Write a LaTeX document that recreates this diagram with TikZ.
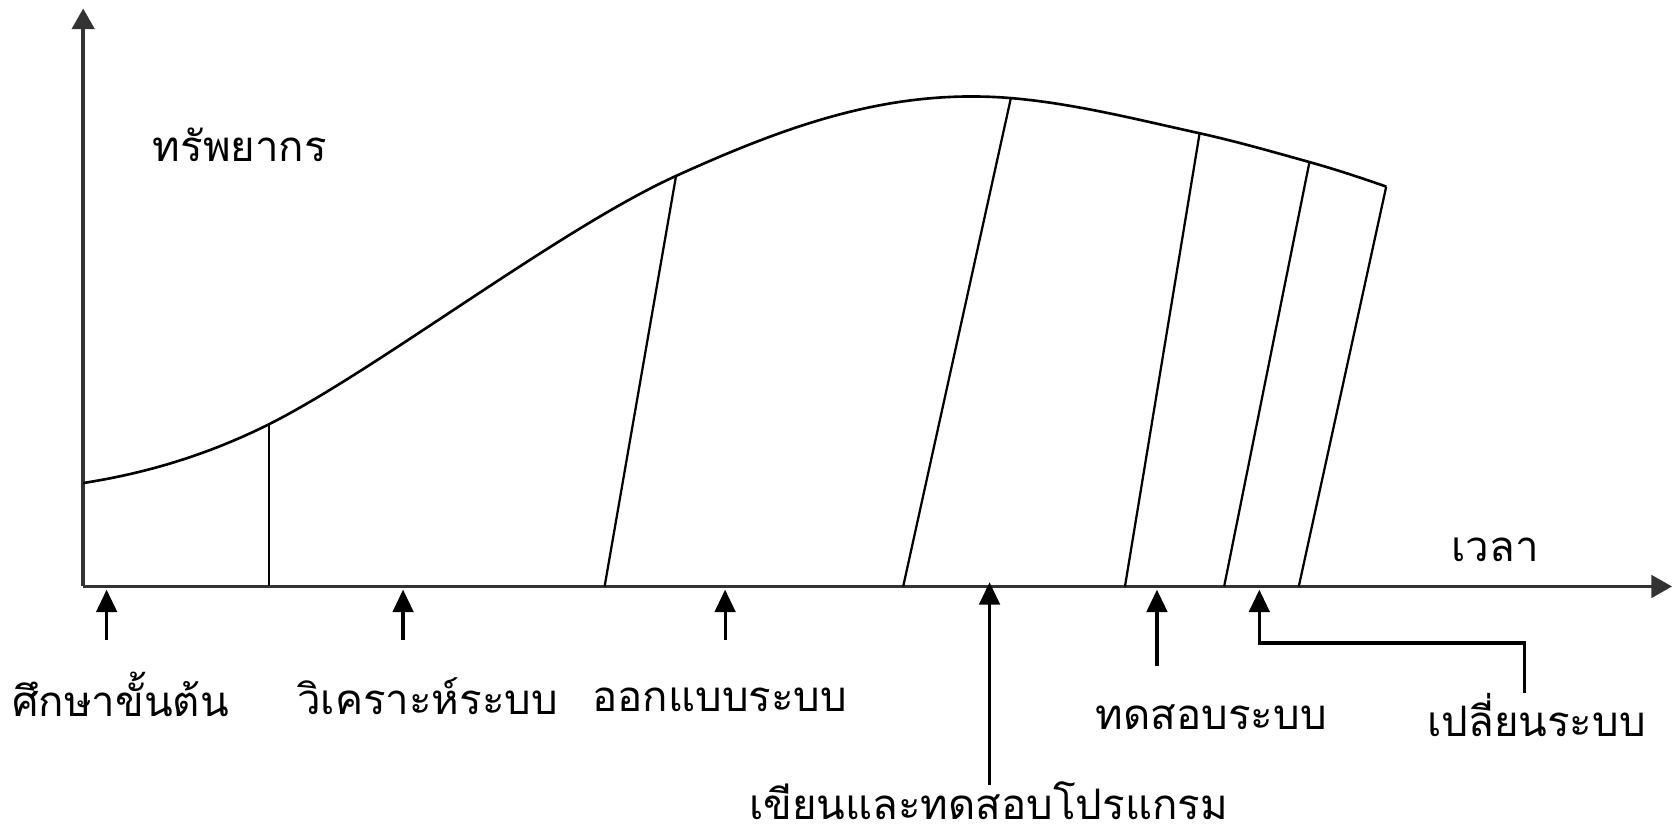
\documentclass[tikz,border=0pt]{standalone}
\usepackage{fontspec}
\newfontfamily\thaifont[Script=Thai]{Loma}
\usetikzlibrary{arrows.meta}
\begin{document}
\begin{tikzpicture}[x=0.01cm,y=-0.01cm,
  axis/.style={line width=0.9pt,draw=black!80,-{Triangle[length=5.5pt,width=6pt]}},
  arr/.style={line width=0.85pt,-{Triangle[length=6pt,width=5.5pt]}},
  curve/.style={line width=0.7pt},
  div/.style={line width=0.6pt},
  lbl/.style={font=\thaifont\fontsize{11.2}{13}\selectfont,anchor=base,inner sep=0pt,text depth=0pt}]
\useasboundingbox (0,0) rectangle (1568,786);
% axes
\coordinate (O) at (78,550);
\coordinate (ytop) at (78,8);
\coordinate (xend) at (1568,550);
\draw[axis] (O) -- (ytop);
\draw[axis] (O) -- (xend);
% curve points
\coordinate (c0) at (78,453);
\coordinate (c1) at (252,398);
\coordinate (c2) at (634,165);
\coordinate (c3) at (948,92);
\coordinate (c4) at (1125,125);
\coordinate (c5) at (1228,152);
\coordinate (c6) at (1300,175);
\draw[curve] (c0) .. controls (136,444) and (194,427) .. (c1)
  .. controls (352,348) and (524,215) .. (c2)
  .. controls (744,115) and (838,83) .. (c3)
  .. controls (1007,97) and (1066,112) .. (c4)
  .. controls (1159,132.5) and (1194,142.5) .. (c5)
  .. controls (1252,158.7) and (1276,166.6) .. (c6);
% division lines
\coordinate (b1) at (252,550);
\coordinate (b2) at (567,550);
\coordinate (b3) at (847,550);
\coordinate (b4) at (1055,550);
\coordinate (b5) at (1148,550);
\coordinate (b6) at (1218,550);
\draw[div] (c1) -- (b1);
\draw[div] (c2) -- (b2);
\draw[div] (c3) -- (b3);
\draw[div] (c4) -- (b4);
\draw[div] (c5) -- (b5);
\draw[div] (c6) -- (b6);
% labels
\node[lbl] (res) at (225,151) {ทรัพยากร};
\node[lbl] (time) at (1402,527) {เวลา};
\node[lbl] (l1) at (113,672) {ศึกษาขั้นต้น};
\node[lbl] (l2) at (401,670) {วิเคราะห์ระบบ};
\node[lbl] (l3) at (675,667) {ออกแบบระบบ};
\node[lbl] (l4) at (927,769) {เขียนและทดสอบโปรแกรม};
\node[lbl] (l5) at (1136,684) {ทดสอบระบบ};
\node[lbl] (l6) at (1441,691) {เปลี่ยนระบบ};
% arrows
\coordinate (s1) at (100,600); \coordinate (e1) at (100,553);
\coordinate (s2) at (378,600); \coordinate (e2) at (378,553);
\coordinate (s3) at (680,600); \coordinate (e3) at (680,553);
\coordinate (s4) at (928,736); \coordinate (e4) at (928,546);
\coordinate (s5) at (1085,625); \coordinate (e5) at (1085,553);
\coordinate (s6) at (1430,650); \coordinate (k6) at (1181,603); \coordinate (e6) at (1181,553);
\draw[arr] (s1) -- (e1);
\draw[arr] (s2) -- (e2);
\draw[arr] (s3) -- (e3);
\draw[arr] (s4) -- (e4);
\draw[arr] (s5) -- (e5);
\draw[arr] (s6) |- (k6) -- (e6);
\end{tikzpicture}
\end{document}
